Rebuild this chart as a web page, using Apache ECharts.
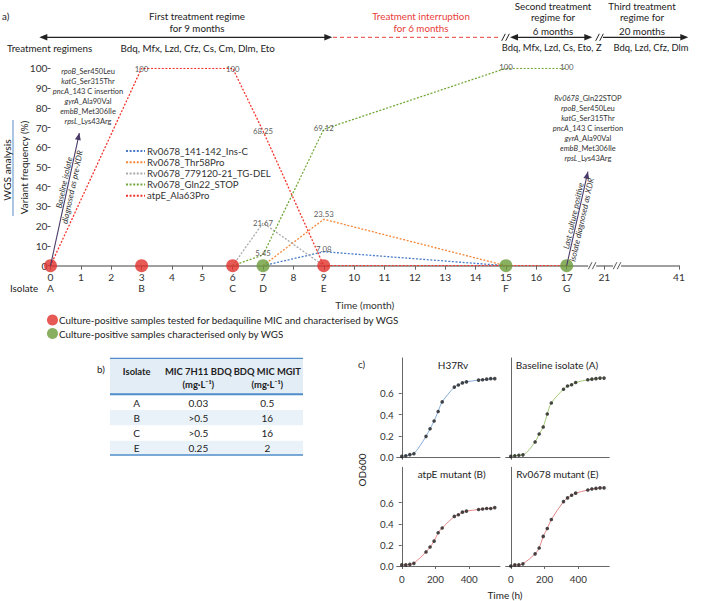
<!DOCTYPE html>
<html><head><meta charset="utf-8">
<script src="https://cdn.jsdelivr.net/npm/echarts@6/dist/echarts.min.js"></script>
<style>html,body{margin:0;padding:0;background:#fff}#c{width:703px;height:601px}</style>
</head><body><div id="c"></div>
<script>
// ---------------- DATA ----------------
const isolateMonths = [0, 3, 6, 7, 9, 15, 17];
const isolateLetters = ['A', 'B', 'C', 'D', 'E', 'F', 'G'];
const micTestedMonths = [0, 3, 6, 9];
const wgsOnlyMonths = [7, 15, 17];
const monthTicks = [0,1,2,3,4,5,6,7,8,9,10,11,12,13,14,15,16,17,21,41];
const freqTicks = [0,10,20,30,40,50,60,70,80,90,100];

const variantNames = ['Rv0678_141-142_Ins-C','Rv0678_Thr58Pro','Rv0678_779120-21_TG-DEL','Rv0678_Gln22_STOP','atpE_Ala63Pro'];
const insCMonths = [7, 9, 15];
const insCFreq   = [0, 7.08, 0];
const thr58Months = [7, 9, 15];
const thr58Freq   = [0, 23.53, 0];
const tgDelMonths = [6, 7, 9];
const tgDelFreq   = [0, 21.67, 0];
const gln22Months = [6, 7, 9, 15, 17];
const gln22Freq   = [0, 5.45, 69.12, 100, 100];
const atpEMonths = [0, 3, 6, 7, 9, 15, 17];
const atpEFreq   = [0, 100, 100, 68.25, 0, 0, 0];

const dotNames = ['Culture-positive samples tested for bedaquiline MIC and characterised by WGS','Culture-positive samples characterised only by WGS'];

const baselineMutations = [['rpoB','_Ser450Leu'],['katG','_Ser315Thr'],['pncA','_143 C insertion'],['gyrA','_Ala90Val'],['embB','_Met306Ile'],['rpsL','_Lys43Arg']];
const lastMutations = [['Rv0678','_Gln22STOP']].concat(baselineMutations);

const tableHeader1 = ['Isolate', 'MIC 7H11 BDQ', 'BDQ MIC MGIT'];
const tableHeader2 = ['', '(mg·L\u207B\u00B9)', '(mg·L\u207B\u00B9)'];
const tableIsolates = ['A', 'B', 'C', 'E'];
const mic7H11 = ['0.03', '>0.5', '>0.5', '0.25'];
const micMGIT = ['0.5', '16', '16', '2'];

const growthHours = [0,24,48,72,144,168,192,216,240,312,336,360,384,456,480,504,528,552];
const odH37Rv    = [0.006,0.012,0.022,0.031,0.195,0.267,0.34,0.43,0.52,0.66,0.68,0.70,0.71,0.726,0.73,0.735,0.74,0.74];
const odBaseline = [0.006,0.012,0.016,0.02,0.142,0.217,0.283,0.406,0.51,0.64,0.67,0.682,0.704,0.729,0.735,0.74,0.745,0.745];
const odAtpE     = [0.01,0.01,0.015,0.025,0.133,0.18,0.235,0.315,0.36,0.47,0.485,0.51,0.52,0.535,0.54,0.545,0.545,0.553];
const odRv0678   = [0,0.01,0.01,0.02,0.115,0.17,0.28,0.355,0.44,0.61,0.645,0.67,0.69,0.72,0.73,0.735,0.74,0.74];
const growthTitles = ['H37Rv','Baseline isolate (A)','atpE mutant (B)','Rv0678 mutant (E)'];
const odTicks = [0, 0.2, 0.4, 0.6];
const hourTicks = [0, 200, 400];

// --------------- broken time scale ---------------
const breakMonths = [0, 17, 21, 41];
const breakPos    = [0, 17, 18.24, 20.70];
function axisPos(m) {
  for (let i = 1; i < breakMonths.length; i++) {
    if (m <= breakMonths[i]) {
      const a = breakMonths[i-1], b = breakMonths[i];
      return breakPos[i-1] + (m - a) / (b - a) * (breakPos[i] - breakPos[i-1]);
    }
  }
  return breakPos[breakPos.length - 1];
}
function posToMonth(v) {
  let best = monthTicks[0], bd = 1e9;
  monthTicks.concat(isolateMonths).forEach(m => { const d = Math.abs(axisPos(m) - v); if (d < bd) { bd = d; best = m; } });
  return best;
}

// --------------- styles ---------------
const FF = 'Lato, "Noto Sans", sans-serif';
const FS = 9.8;
const variantColors = ['#4a7cc9', '#f4873a', '#a9a9a9', '#74a83b', '#f2352d'];
const labelNudge = [-3, -6, 0, -2, 0];

const chart = echarts.init(document.getElementById('c'), null, {renderer: 'svg', width: 703, height: 601});

const variantSets = [[insCMonths, insCFreq],[thr58Months, thr58Freq],[tgDelMonths, tgDelFreq],[gln22Months, gln22Freq],[atpEMonths, atpEFreq]];

const series = [];
variantSets.forEach((s, k) => {
  series.push({
    type: 'line', name: variantNames[k], xAxisIndex: 0, yAxisIndex: 0,
    data: s[0].map((m, i) => [axisPos(m), s[1][i]]),
    symbol: 'none', legendIcon: 'none', z: 2 + (k === 4 ? 1 : 0),
    lineStyle: {color: variantColors[k], width: 1.3, type: [2, 1.6]},
    itemStyle: {color: variantColors[k]}
  });
});
const peakLabels = [];
variantSets.forEach((s, k) => {
  s[0].forEach((m, i) => {
    if (s[1][i] > 0) peakLabels.push({name: String(s[1][i]), value: [axisPos(m), s[1][i]], label: {offset: [0, labelNudge[k]]}});
  });
});
series.push({
  type: 'scatter', name: 'peakLabels', xAxisIndex: 0, yAxisIndex: 0, data: peakLabels, symbolSize: 0, z: 6, silent: true,
  itemStyle: {color: '#333'},
  label: {show: true, position: 'top', distance: -4.5, formatter: '{b}', color: '#2a2a2a', fontSize: 7.8, fontFamily: FF}
});
series.push({
  type: 'scatter', name: dotNames[0], xAxisIndex: 0, yAxisIndex: 0, z: 8,
  data: micTestedMonths.map(m => [axisPos(m), 0]), symbolSize: 13, itemStyle: {color: '#e02f2a'}
});
series.push({
  type: 'scatter', name: dotNames[1], xAxisIndex: 0, yAxisIndex: 0, z: 8,
  data: wgsOnlyMonths.map(m => [axisPos(m), 0]), symbolSize: 13, itemStyle: {color: '#6b9b3a'}
});

// growth panels
const growthSets = [odH37Rv, odBaseline, odAtpE, odRv0678];
const growthColors = ['#86acd9', '#a3c977', '#ea8a8a', '#e08787'];
growthSets.forEach((od, k) => {
  series.push({type: 'line', xAxisIndex: k + 2, yAxisIndex: k + 1, data: growthHours.map((h, i) => [h, od[i]]),
    smooth: 0.35, symbol: 'none', lineStyle: {color: growthColors[k], width: 1}, z: 2});
  series.push({type: 'scatter', xAxisIndex: k + 2, yAxisIndex: k + 1, data: growthHours.map((h, i) => [h, od[i]]),
    symbolSize: 3.6, itemStyle: {color: '#1d1d1d'}, z: 3});
});

const gridC = [
  {left: 396.7, top: 358, width: 103.3, height: 101.3},
  {left: 505.7, top: 358, width: 103.6, height: 101.3},
  {left: 396.7, top: 467.3, width: 103.3, height: 101},
  {left: 505.7, top: 467.3, width: 103.6, height: 101}
];
const axisTxt = {color: '#333', fontSize: 10.2, fontFamily: FF};

const xAxes = [
  {type: 'value', gridIndex: 0, min: 0, max: breakPos[3],
    axisLine: {show: true, onZero: false, lineStyle: {color: '#a0a0a0', width: 2}},
    axisTick: {show: true, length: 4, customValues: monthTicks.map(axisPos), lineStyle: {color: '#666', width: 1}},
    axisLabel: {customValues: monthTicks.map(axisPos), formatter: v => String(posToMonth(v)), margin: 6, ...axisTxt},
    splitLine: {show: false},
    name: 'Time (month)', nameLocation: 'middle', nameGap: 34, nameTextStyle: axisTxt},
  {type: 'value', gridIndex: 0, min: 0, max: breakPos[3], position: 'bottom', offset: 11,
    axisLine: {show: false}, axisTick: {show: false}, splitLine: {show: false},
    axisLabel: {customValues: isolateMonths.map(axisPos), formatter: v => isolateLetters[isolateMonths.indexOf(posToMonth(v))] || '', margin: 6, ...axisTxt}}
];
const yAxes = [
  {type: 'value', gridIndex: 0, min: 0, max: 100, interval: 10,
    axisLine: {show: false}, axisTick: {show: true, length: 3, lineStyle: {color: '#555'}},
    axisLabel: {margin: 3, ...axisTxt}, splitLine: {show: false}}
];
gridC.forEach((g, k) => {
  const bottom = k >= 2, left = (k % 2) === 0;
  xAxes.push({type: 'value', gridIndex: k + 1, min: -30, max: 583,
    axisLine: {show: true, lineStyle: {color: '#666', width: 1}},
    axisTick: {show: bottom, length: 3, customValues: hourTicks, lineStyle: {color: '#666'}},
    axisLabel: {show: bottom, customValues: hourTicks, margin: 6, ...axisTxt, fontSize: 9.8},
    splitLine: {show: false}});
  yAxes.push({type: 'value', gridIndex: k + 1, min: -0.022, max: 0.935,
    axisLine: {show: true, lineStyle: {color: '#666', width: 1}},
    axisTick: {show: left, length: 3, customValues: odTicks, lineStyle: {color: '#666'}},
    axisLabel: {show: left, customValues: odTicks, formatter: v => v.toFixed(1), margin: 3, ...axisTxt, fontSize: 9.8},
    splitLine: {show: false}});
});

chart.setOption({
  animation: false,
  backgroundColor: '#fff',
  textStyle: {fontFamily: FF},
  grid: [{left: 50.5, top: 68.3, width: 628.5, height: 197.4, outerBoundsMode: 'none'}].concat(gridC.map(g => Object.assign({outerBoundsMode: 'none'}, g))),
  xAxis: xAxes,
  yAxis: yAxes,
  legend: [
    {data: variantNames, orient: 'vertical', left: 120, top: 141, itemWidth: 19, itemHeight: 8, itemGap: 1.2,
      itemStyle: {opacity: 0},
      textStyle: {color: '#333', fontSize: 9.6, fontFamily: FF, padding: [0,0,0,-3]}, selectedMode: false},
    {data: dotNames, orient: 'vertical', left: 42, top: 309.5, itemWidth: 11, itemHeight: 11, itemGap: 2.5, icon: 'circle',
      textStyle: {color: '#222', fontSize: 9.8, fontFamily: FF, padding: [0,0,0,-4]}, selectedMode: false}
  ],
  series: series
});

// ---------------- annotations ----------------
function pxd(x, y) { return chart.convertToPixel({xAxisIndex: 0, yAxisIndex: 0}, [x, y]); }
function txt(text, x, y, o) {
  o = o || {};
  return {type: 'text', x: x, y: y, rotation: o.rot || 0, z: 100, silent: true,
    style: {text: text, x: o.dx || 0, y: o.dy || 0, fill: o.color || '#222', fontSize: o.size || FS, fontFamily: FF,
      fontStyle: o.italic ? 'italic' : 'normal', fontWeight: o.bold ? 'bold' : 'normal',
      align: o.align || 'center', verticalAlign: o.va || 'middle', textAlign: o.align || 'center', textVerticalAlign: o.va || 'middle',
      lineHeight: o.lh, rich: o.rich}};
}
function seg(p0, p1, color, w, dash) {
  return {type: 'line', z: 99, silent: true, shape: {x1: p0[0], y1: p0[1], x2: p1[0], y2: p1[1]}, style: {stroke: color, lineWidth: w, lineDash: dash || null}};
}
function head(tip, from, color, len, half) {
  len = len || 7; half = half || 3;
  const dx = tip[0] - from[0], dy = tip[1] - from[1], L = Math.hypot(dx, dy), ux = dx / L, uy = dy / L;
  const bx = tip[0] - ux * len, by = tip[1] - uy * len;
  return {type: 'polygon', z: 100, silent: true, shape: {points: [tip, [bx - uy * half, by + ux * half], [bx + uy * half, by - ux * half]]}, style: {fill: color}};
}
function slashes(cx, cy, color, bg) {
  const out = [];
  if (bg) out.push({type: 'rect', z: 99, silent: true, shape: {x: cx - 4, y: cy - 2, width: 8, height: 4}, style: {fill: '#fff'}});
  [-2, 2].forEach(o => out.push(seg([cx + o - 1.8, cy + 3.5], [cx + o + 1.8, cy - 3.5], color, 1)));
  return out;
}
function alongText(p0, p1, frac, text, side) {
  const dx = p1[0] - p0[0], dy = p1[1] - p0[1];
  const ang = Math.atan2(-dy, dx);
  return txt(text, p0[0] + dx * frac, p0[1] + dy * frac, {rot: ang, va: side === 'above' ? 'bottom' : 'top', dy: side === 'above' ? -0.5 : 0.5, italic: true, size: 8.2, color: '#333'});
}
function mutationText(list) {
  return list.map(r => '{i|' + r[0] + '}{n|' + r[1] + '}').join('\n');
}
const MF = 7.5;
const richMut = {i: {fontStyle: 'italic', fontSize: MF, fontFamily: FF, fill: '#333', color: '#333', lineHeight: 10}, n: {fontSize: MF, fontFamily: FF, fill: '#333', color: '#333', lineHeight: 10}};

const g = [];
const DARK = '#222', RED = '#e8403a';
// header
g.push(txt('a)', 2, 16, {align: 'left'}));
g.push(txt('First treatment regime', 197, 16));
g.push(txt('for 9 months', 197, 28.3));
g.push(txt('Treatment interruption', 421, 16, {color: RED}));
g.push(txt('for 6 months', 421, 28.3, {color: RED}));
g.push(txt('Second treatment', 553, 5.7));
g.push(txt('regime for', 553, 17.3));
g.push(txt('6 months', 553, 30.7));
g.push(txt('Third treatment', 642, 5.7));
g.push(txt('regime for', 642, 17.3));
g.push(txt('20 months', 642, 30.7));
g.push(txt('Treatment regimens', 7, 47.7, {align: 'left'}));
g.push(txt('Bdq, Mfx, Lzd, Cfz, Cs, Cm, Dlm, Eto', 197.7, 47.7));
g.push(txt('Bdq, Mfx, Lzd, Cs, Eto, Z', 551.7, 47.7, {size: 9.4}));
g.push(txt('Bdq, Lzd, Cfz, Dlm', 651, 47.7, {size: 9.4}));
const ay = 37.3;
g.push(seg([42, ay], [330, ay], DARK, 1.2));
g.push(head([39.3, ay], [50, ay], DARK, 8, 3.2));
g.push(head([332.3, ay], [320, ay], DARK, 8, 3.2));
g.push(seg([333, ay], [501, ay], RED, 1, [4, 3]));
g.push(...slashes(505.5, ay, DARK));
g.push(seg([513, ay], [590, ay], DARK, 1.2));
g.push(head([510, ay], [520, ay], DARK, 8, 3.2));
g.push(head([592.3, ay], [580, ay], DARK, 8, 3.2));
g.push(...slashes(599.5, ay, DARK));
g.push(seg([603, ay], [686, ay], DARK, 1.2));
g.push(head([688.3, ay], [678, ay], DARK, 8, 3.2));

// y-axis titles
g.push(txt('Variant frequency (%)', 24, 167.5, {rot: Math.PI / 2, size: 10}));
g.push(txt('WGS analysis', 6.5, 170, {rot: Math.PI / 2, size: 10.3}));
g.push(seg([13, 120], [13, 216], '#8fb3d9', 1.5));
g.push(txt('Isolate', 10, 288.3, {align: 'left'}));

// x-axis breaks
[17.84, 18.66].forEach(v => { const p = pxd(v, 0); g.push(...slashes(p[0], p[1], '#555', true)); });

// annotation arrows
const ARC = '#4b3b68';
const a0 = pxd(axisPos(0), 0), a1 = pxd(0.95, 67.2);
g.push(seg(a0, a1, ARC, 1.1));
g.push(head(a1, a0, ARC, 7, 3));
g.push(alongText(a0, a1, 0.62, 'Baseline isolate', 'above'));
g.push(alongText(a0, a1, 0.60, 'diagnosed as pre-XDR', 'below'));
g.push(txt(mutationText(baselineMutations), a1[0] + 8.7, a1[1] - 7, {va: 'bottom', rich: richMut, size: MF, lh: 10, color: '#333'}));
const b0 = pxd(axisPos(17), 0), b1 = pxd(17.70, 47.6);
g.push(seg(b0, b1, ARC, 1.1));
g.push(head(b1, b0, ARC, 7, 3));
g.push(alongText(b0, b1, 0.52, 'Last culture positive', 'above'));
g.push(alongText(b0, b1, 0.50, 'isolate diagnosed as XDR', 'below'));
g.push(txt(mutationText(lastMutations), b1[0], b1[1] - 8, {va: 'bottom', rich: richMut, size: MF, lh: 10, color: '#333'}));

// ---------------- table (b) ----------------
g.push(txt('b)', 97, 369, {align: 'left'}));
const tL = 110, tR = 303, colX = [136.7, 198.3, 267.3];
const hTop = 358.3, hBot = 394.3, rowY = [402.7, 417.7, 432.7, 448.3], tBot = 455;
const BLUE = '#4f8cc9';
g.push({type: 'rect', z: 90, silent: true, shape: {x: tL, y: hTop, width: tR - tL, height: hBot - hTop}, style: {fill: '#e3edf6'}});
[1, 3].forEach(i => g.push({type: 'rect', z: 90, silent: true, shape: {x: tL, y: rowY[i] - 7.6, width: tR - tL, height: i === 3 ? tBot - (rowY[i] - 7.6) : 15.2}, style: {fill: '#eaf2f9'}}));
g.push(seg([tL, hTop], [tR, hTop], BLUE, 1.2));
g.push(seg([tL, hBot], [tR, hBot], BLUE, 2));
g.push(seg([tL, tBot], [tR, tBot], BLUE, 1.5));
tableHeader1.forEach((h, i) => g.push(txt(h, colX[i], 371.5, {bold: true, size: 9.4})));
tableHeader2.forEach((h, i) => { if (h) g.push(txt(h, colX[i], 384, {bold: true, size: 9.4})); });
tableIsolates.forEach((v, i) => {
  g.push(txt(v, colX[0], rowY[i], {size: 10}));
  g.push(txt(mic7H11[i], colX[1], rowY[i], {size: 10}));
  g.push(txt(micMGIT[i], colX[2], rowY[i], {size: 10}));
});

// ---------------- growth (c) ----------------
g.push(txt('c)', 358, 363.5, {align: 'left'}));
g.push(txt(growthTitles[0], 453, 365, {size: 10}));
g.push(txt(growthTitles[1], 557, 365, {size: 10}));
g.push(txt(growthTitles[2], 451.7, 474.3, {size: 10}));
g.push(txt(growthTitles[3], 557.3, 474.3, {size: 10}));
g.push(txt('OD600', 361.7, 470, {rot: Math.PI / 2, size: 10}));
g.push(txt('Time (h)', 505, 595, {size: 10}));

chart.setOption({graphic: {elements: g}});
</script></body></html>
